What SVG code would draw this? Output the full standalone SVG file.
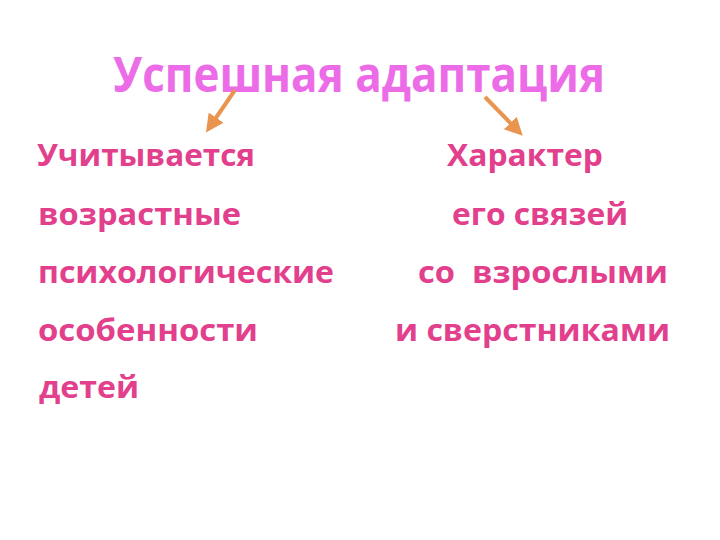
<svg xmlns="http://www.w3.org/2000/svg" width="720" height="540" viewBox="0 0 720 540">
<style>
.title{font-family:"Open Sans","Noto Sans","DejaVu Sans",sans-serif;font-weight:bold;font-size:49px;fill:#ec6ce8}
.body{font-family:"Open Sans","Noto Sans","DejaVu Sans",sans-serif;font-weight:bold;font-size:31px;fill:#e2408c;white-space:pre}
.conn{stroke:#e9944f;stroke-width:4;fill:none;marker-end:url(#ah)}
</style>
<defs>
<marker id="ah" viewBox="0 0 10 10" refX="7" refY="5" markerWidth="4.5" markerHeight="4.5" orient="auto" markerUnits="strokeWidth">
<path d="M0,0 L10,5 L0,10 z" fill="#e9944f"/>
</marker>
</defs>
<rect width="720" height="540" fill="#ffffff"/>
<g id="title"><text class="title" x="113" y="92" textLength="492" lengthAdjust="spacingAndGlyphs">Успешная адаптация</text></g>
<g id="left">
<text class="body" x="37" y="166" textLength="218" lengthAdjust="spacingAndGlyphs">Учитывается</text>
<text class="body" x="38" y="225" textLength="203" lengthAdjust="spacingAndGlyphs">возрастные</text>
<text class="body" x="38" y="283" textLength="296" lengthAdjust="spacingAndGlyphs">психологические</text>
<text class="body" x="38" y="341" textLength="220" lengthAdjust="spacingAndGlyphs">особенности</text>
<text class="body" x="39" y="398" textLength="100" lengthAdjust="spacingAndGlyphs">детей</text>
</g>
<g id="right">
<text class="body" x="447" y="166" textLength="156" lengthAdjust="spacingAndGlyphs">Характер</text>
<text class="body" x="452" y="225" textLength="176" lengthAdjust="spacingAndGlyphs">его связей</text>
<text class="body" x="418" y="283" textLength="250" lengthAdjust="spacingAndGlyphs" xml:space="preserve">со  взрослыми</text>
<text class="body" x="395" y="341" textLength="275" lengthAdjust="spacingAndGlyphs">и сверстниками</text>
</g>
<g id="connectors">
<line class="conn" x1="235" y1="90" x2="209" y2="128"/>
<line class="conn" x1="485" y1="97" x2="519" y2="132"/>
</g>
</svg>
